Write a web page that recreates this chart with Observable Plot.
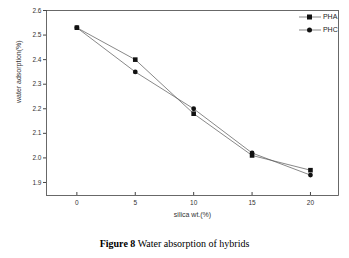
<!DOCTYPE html>
<html><head><meta charset="utf-8">
<script src="https://cdn.jsdelivr.net/npm/d3@7"></script>
<script src="https://cdn.jsdelivr.net/npm/@observablehq/plot@0.6"></script>
<style>
body{margin:0;background:#fff;width:349px;height:258px;overflow:hidden;position:relative;}
#cap{position:absolute;top:238px;left:0;width:349px;text-align:center;font-family:"Liberation Serif","Times New Roman",serif;font-size:10px;color:#000;}
#leg{position:absolute;top:10px;left:299px;font-family:"Liberation Sans",Arial,sans-serif;font-size:7px;color:#222;line-height:13px;}
#leg svg{vertical-align:middle;}
</style></head><body>
<div id="chart"></div>
<div id="leg"></div>
<div id="cap"><b>Figure 8</b> Water absorption of hybrids</div>
<script>
const silica = [0, 5, 10, 15, 20];
const pha = [2.53, 2.40, 2.18, 2.01, 1.95];
const phc = [2.53, 2.35, 2.20, 2.02, 1.93];
const seriesNames = ["PHA", "PHC"];
const yTicks = [1.9, 2.0, 2.1, 2.2, 2.3, 2.4, 2.5, 2.6];
const xTicks = [0, 5, 10, 15, 20];

const data = [];
silica.forEach((s, i) => {
  data.push({x: s, y: pha[i], series: "PHA"});
  data.push({x: s, y: phc[i], series: "PHC"});
});

const plot = Plot.plot({
  width: 349, height: 230,
  marginLeft: 46, marginTop: 10, marginRight: 11, marginBottom: 35,
  style: {fontFamily: "'Liberation Sans', Arial, sans-serif", fontSize: "6.5px", color: "#333", background: "#fff"},
  x: {domain: [-2.6, 22.4], ticks: xTicks, label: null},
  y: {domain: [1.847, 2.6], ticks: yTicks, label: null},
  marks: [
    Plot.frame({stroke: "#444", strokeWidth: 0.8}),
    Plot.axisX({ticks: xTicks, tickSize: -3, tickPadding: 8, tickFormat: d => d, stroke: "#444"}),
    Plot.axisY({ticks: yTicks, tickSize: 3, tickPadding: 2, tickFormat: d => d.toFixed(1), stroke: "#444"}),
    Plot.text(["silica wt.(%)"], {frameAnchor: "bottom", dy: 21, fontSize: 7, fill: "#333"}),
    Plot.text(["water adsorption(%)"], {frameAnchor: "left", dx: -28, rotate: -90, fontSize: 7, fill: "#333"}),
    Plot.line(data, {x: "x", y: "y", z: "series", stroke: "#555", strokeWidth: 0.7}),
    Plot.dot(data.filter(d => d.series === "PHA"), {x: "x", y: "y", symbol: "square", r: 2.6, fill: "#111", stroke: "none"}),
    Plot.dot(data.filter(d => d.series === "PHC"), {x: "x", y: "y", symbol: "circle", r: 2.4, fill: "#111", stroke: "none"})
  ]
});
document.getElementById("chart").append(plot);

const leg = document.getElementById("leg");
const syms = {PHA: '<rect x="8" y="1.5" width="5" height="5" fill="#111"/>', PHC: '<circle cx="10.5" cy="4" r="2.5" fill="#111"/>'};
seriesNames.forEach(n => {
  const row = document.createElement("div");
  row.innerHTML = `<svg width="22" height="8"><line x1="0" y1="4" x2="22" y2="4" stroke="#555" stroke-width="0.7"/>${syms[n]}</svg> ${n}`;
  leg.append(row);
});
</script>
</body></html>
